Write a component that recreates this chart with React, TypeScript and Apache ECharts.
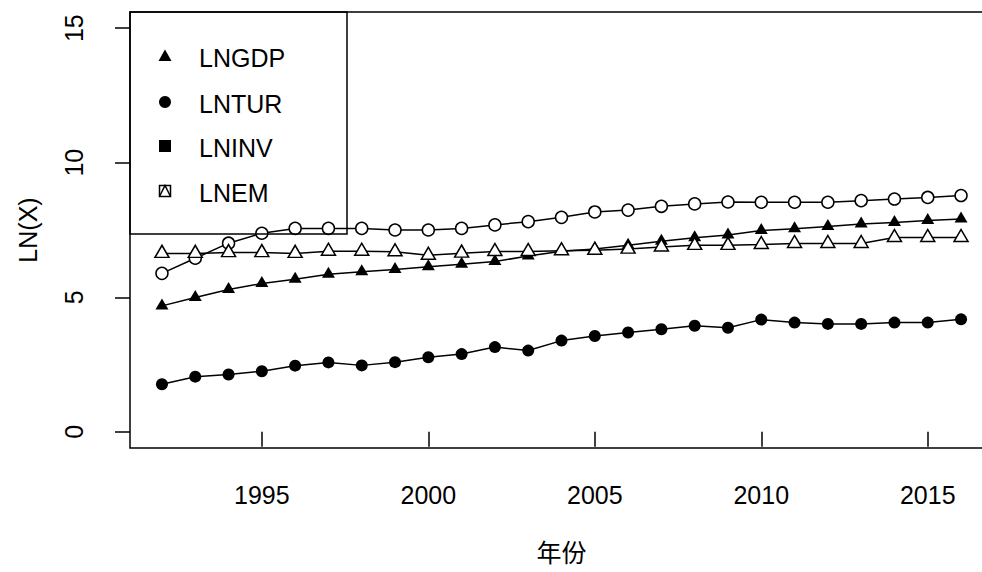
import React, { useEffect, useRef } from "react";
import * as echarts from "echarts";

const years = [1992, 1993, 1994, 1995, 1996, 1997, 1998, 1999, 2000, 2001, 2002, 2003, 2004, 2005, 2006, 2007, 2008, 2009, 2010, 2011, 2012, 2013, 2014, 2015, 2016];
const lngdp = [4.68, 4.99, 5.29, 5.51, 5.67, 5.86, 5.95, 6.03, 6.13, 6.23, 6.33, 6.53, 6.71, 6.79, 6.93, 7.08, 7.21, 7.31, 7.48, 7.55, 7.63, 7.72, 7.78, 7.85, 7.91];
const lntur = [1.77, 2.05, 2.13, 2.25, 2.46, 2.58, 2.47, 2.59, 2.77, 2.89, 3.15, 3.02, 3.39, 3.56, 3.69, 3.81, 3.94, 3.87, 4.17, 4.06, 4.01, 4.01, 4.06, 4.06, 4.18];
const lninv = [5.89, 6.45, 7.01, 7.38, 7.56, 7.56, 7.56, 7.5, 7.5, 7.56, 7.69, 7.81, 7.97, 8.17, 8.24, 8.38, 8.47, 8.54, 8.53, 8.53, 8.53, 8.59, 8.65, 8.71, 8.78];
const lnem = [6.63, 6.63, 6.66, 6.66, 6.63, 6.71, 6.71, 6.69, 6.56, 6.64, 6.7, 6.7, 6.73, 6.75, 6.79, 6.87, 6.93, 6.93, 6.96, 7.0, 7.0, 7.0, 7.22, 7.22, 7.22];

const xTicks = [1995, 2000, 2005, 2010, 2015];
const yTicks = [0, 5, 10, 15];
const legendNames = ["LNGDP", "LNTUR", "LNINV", "LNEM"];

const FONT = '"Liberation Sans", Arial, "Noto Sans CJK SC", sans-serif';
const FS = 25;
const LW = 1.5;

export default function App() {
  const ref = useRef<HTMLDivElement>(null);

  useEffect(() => {
    const chart = echarts.init(ref.current!, null, { renderer: "svg" });
    const pair = (arr: number[]) => years.map((y, i) => [y, arr[i]]);
    const ink = "#000";
    const lineStyle = { color: ink, width: LW };

    // legend layout (box in top-left corner of the plot)
    const lx = 130, ly = 12, lw = 217, lh = 222;
    const symX = 165, textX = 199;
    const rowY = [56, 102, 146, 191];
    const legendGraphics: any[] = [
      { type: "rect", shape: { x: lx, y: ly, width: lw, height: lh }, style: { fill: "none", stroke: ink, lineWidth: LW }, z: 10 },
      { type: "polygon", shape: { points: [[symX, rowY[0] - 6.5], [symX + 6.5, rowY[0] + 5], [symX - 6.5, rowY[0] + 5]] }, style: { fill: ink }, z: 10 },
      { type: "circle", shape: { cx: symX, cy: rowY[1], r: 6 }, style: { fill: ink }, z: 10 },
      { type: "rect", shape: { x: symX - 6, y: rowY[2] - 6, width: 12, height: 12 }, style: { fill: ink }, z: 10 },
      { type: "rect", shape: { x: symX - 5.5, y: rowY[3] - 5.5, width: 11, height: 11 }, style: { fill: "none", stroke: ink, lineWidth: LW }, z: 10 },
      { type: "polyline", shape: { points: [[symX - 5.5, rowY[3] + 5.5], [symX, rowY[3] - 5.5], [symX + 5.5, rowY[3] + 5.5]] }, style: { fill: "none", stroke: ink, lineWidth: LW }, z: 10 },
    ];
    legendNames.forEach((n, i) => {
      legendGraphics.push({
        type: "text",
        z: 10,
        style: { text: n, x: textX, y: rowY[i] + 2, fill: ink, fontSize: FS, fontFamily: FONT, align: "left", verticalAlign: "middle" },
      });
    });

    const option: any = {
      animation: false,
      textStyle: { fontFamily: FONT },
      grid: { left: 130, top: 12, right: 7, bottom: 124, show: true, borderColor: ink, borderWidth: LW, backgroundColor: "transparent" },
      xAxis: {
        type: "value",
        min: 1991.04,
        max: 2016.96,
        name: "年份",
        nameLocation: "middle",
        nameGap: 92,
        nameTextStyle: { fontSize: FS, color: ink, fontFamily: FONT },
        axisLine: { show: false },
        axisTick: { show: true, length: 15, lineStyle: { color: ink, width: LW }, customValues: xTicks },
        axisLabel: { customValues: xTicks, fontSize: FS, color: ink, margin: 34, fontFamily: FONT, formatter: (v: number) => String(v) },
        splitLine: { show: false },
      },
      yAxis: {
        type: "value",
        min: -0.6,
        max: 15.6,
        name: "LN(X)",
        nameLocation: "middle",
        nameGap: 90,
        nameRotate: 90,
        nameTextStyle: { fontSize: FS, color: ink, fontFamily: FONT },
        axisLine: { show: false },
        axisTick: { show: true, length: 15, lineStyle: { color: ink, width: LW }, customValues: yTicks },
        axisLabel: { customValues: yTicks, fontSize: FS, color: ink, margin: 44, rotate: 90, fontFamily: FONT, formatter: (v: number) => String(v) },
        splitLine: { show: false },
      },
      series: [
        {
          name: "LNGDP", type: "line", data: pair(lngdp), symbol: "triangle", symbolSize: [13, 11], symbolOffset: [0, -2],
          itemStyle: { color: ink }, lineStyle, emphasis: { disabled: true },
        },
        {
          name: "LNTUR", type: "line", data: pair(lntur), symbol: "circle", symbolSize: 12,
          itemStyle: { color: ink }, lineStyle, emphasis: { disabled: true },
        },
        {
          name: "LNINV", type: "line", data: pair(lninv), symbol: "circle", symbolSize: 12,
          itemStyle: { color: "#fff", borderColor: ink, borderWidth: LW }, lineStyle, emphasis: { disabled: true },
        },
        {
          name: "LNEM", type: "line", data: pair(lnem), symbol: "triangle", symbolSize: [14, 12], symbolOffset: [0, -2],
          itemStyle: { color: "#fff", borderColor: ink, borderWidth: LW }, lineStyle, emphasis: { disabled: true },
        },
      ],
      graphic: legendGraphics,
    };
    chart.setOption(option);
    return () => chart.dispose();
  }, []);

  return (
    <div style={{ position: "absolute", left: 0, top: 0, width: 982, height: 572, overflow: "hidden", background: "#fff" }}>
      <div ref={ref} style={{ width: 1000, height: 572 }} />
    </div>
  );
}
